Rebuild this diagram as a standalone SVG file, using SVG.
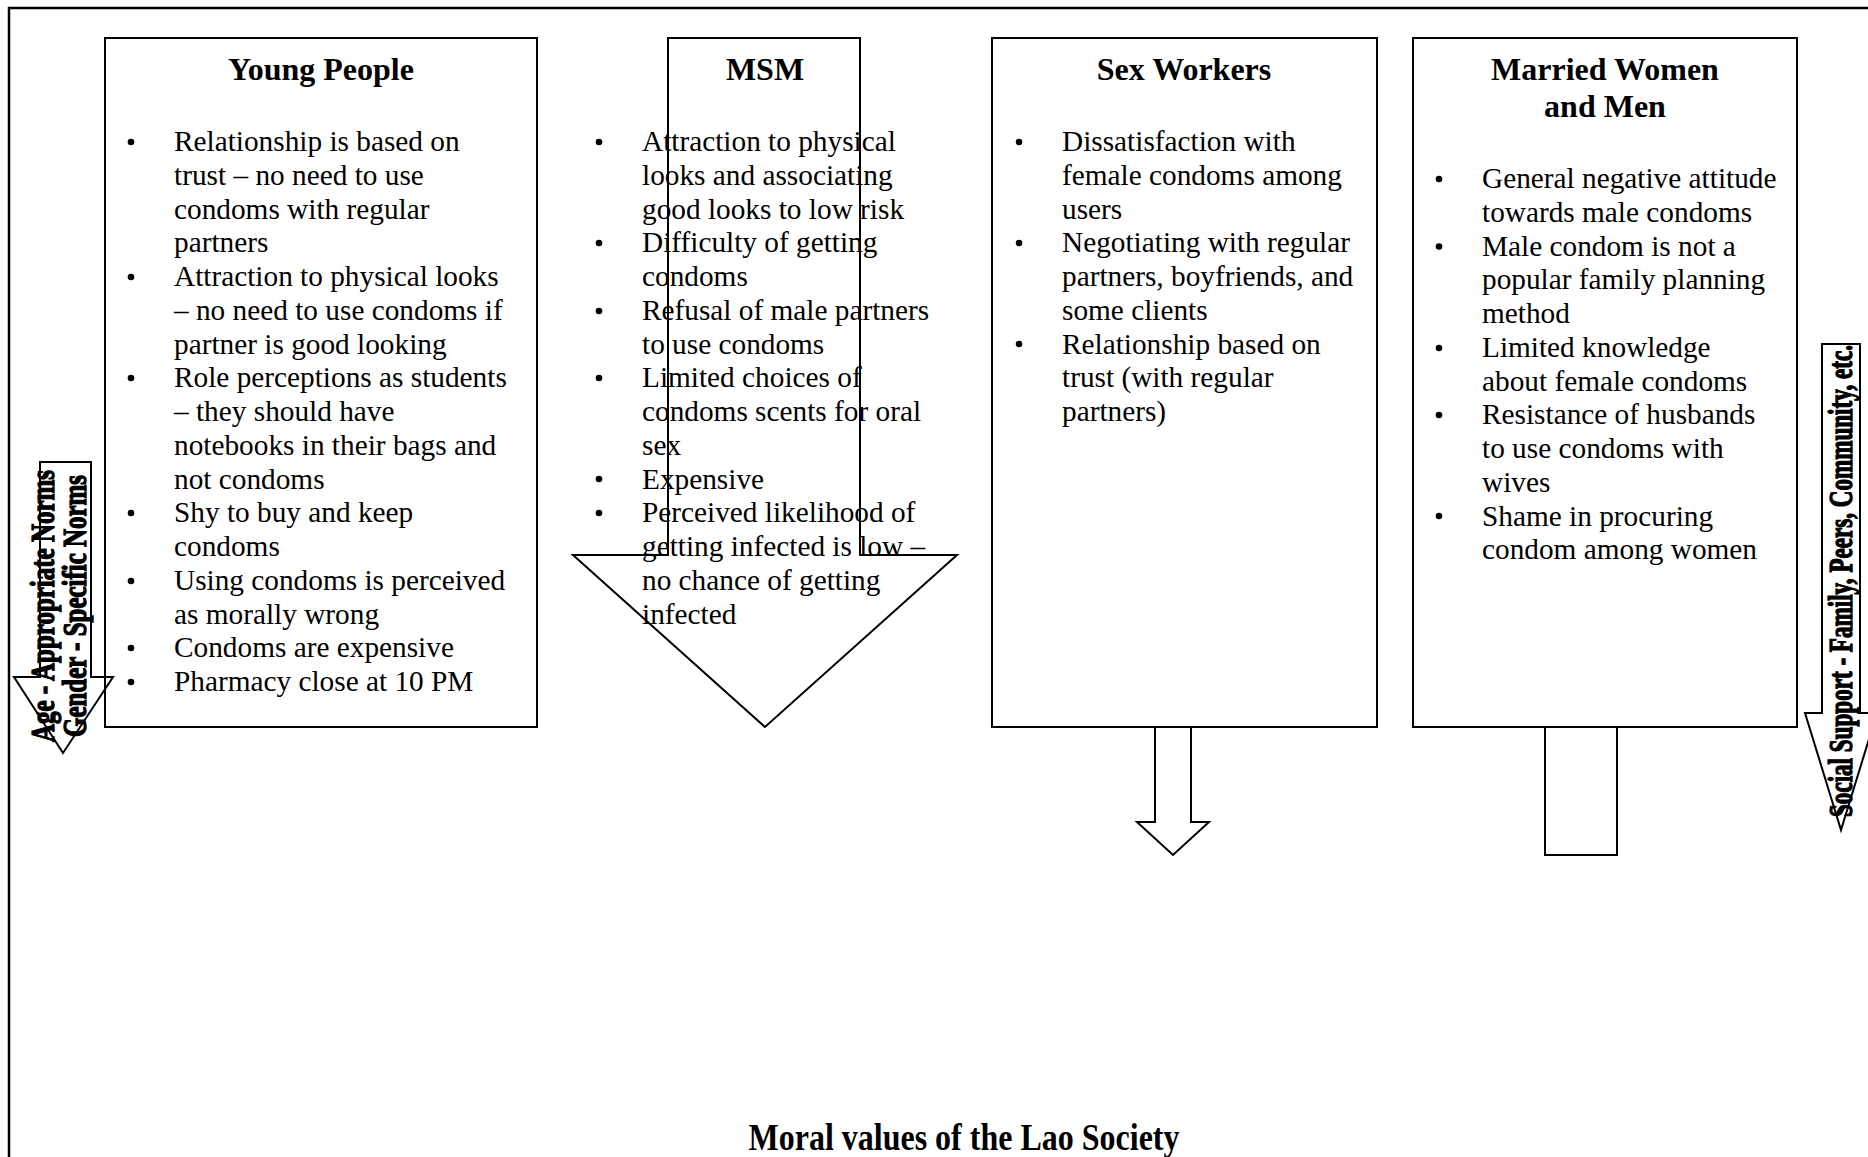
<svg xmlns="http://www.w3.org/2000/svg" width="1868" height="1157" viewBox="0 0 1868 1157">
<style>
.frame{fill:none;stroke:#000;stroke-width:2.5}
.box{fill:none;stroke:#000;stroke-width:2}
.dot{fill:#000}
.title{font-family:"Liberation Serif","Times New Roman",serif;font-weight:bold;font-size:32px;fill:#000;text-anchor:middle}
.body{font-family:"Liberation Serif","Times New Roman",serif;font-size:29.3px;fill:#000}
.vert{font-family:"Liberation Serif","Times New Roman",serif;font-weight:bold;font-size:33px;fill:#000;stroke:#000;stroke-width:1.3}
.foot{font-family:"Liberation Serif","Times New Roman",serif;font-weight:bold;font-size:38px;fill:#000;text-anchor:middle}
</style>
<defs>
<circle id="b" r="3.3" class="dot"/>
</defs>
<rect width="1868" height="1157" fill="#fff"/>
<rect class="frame" x="9" y="8" width="1880" height="1180"/>

<g id="node-young">
<rect class="box" x="105" y="38" width="432" height="689"/>
<text class="title" x="321" y="80">Young People</text>
<g>
<use href="#b" x="131" y="142"/><use href="#b" x="131" y="277"/><use href="#b" x="131" y="378"/><use href="#b" x="131" y="513"/><use href="#b" x="131" y="581"/><use href="#b" x="131" y="648"/><use href="#b" x="131" y="682"/>
</g>
<text class="body">
<tspan x="174" y="151">Relationship is based on</tspan>
<tspan x="174" y="184.75">trust – no need to use</tspan>
<tspan x="174" y="218.5">condoms with regular</tspan>
<tspan x="174" y="252.25">partners</tspan>
<tspan x="174" y="286">Attraction to physical looks</tspan>
<tspan x="174" y="319.75">– no need to use condoms if</tspan>
<tspan x="174" y="353.5">partner is good looking</tspan>
<tspan x="174" y="387.25">Role perceptions as students</tspan>
<tspan x="174" y="421">– they should have</tspan>
<tspan x="174" y="454.75">notebooks in their bags and</tspan>
<tspan x="174" y="488.5">not condoms</tspan>
<tspan x="174" y="522.25">Shy to buy and keep</tspan>
<tspan x="174" y="556">condoms</tspan>
<tspan x="174" y="589.75">Using condoms is perceived</tspan>
<tspan x="174" y="623.5">as morally wrong</tspan>
<tspan x="174" y="657.25">Condoms are expensive</tspan>
<tspan x="174" y="691">Pharmacy close at 10 PM</tspan>
</text>
</g>

<g id="node-msm">
<polygon class="box" points="668,38 860,38 860,555 957,555 765,727 573,555 668,555"/>
<text class="title" x="765" y="80">MSM</text>
<g>
<use href="#b" x="599" y="142"/><use href="#b" x="599" y="243"/><use href="#b" x="599" y="311"/><use href="#b" x="599" y="378"/><use href="#b" x="599" y="479"/><use href="#b" x="599" y="513"/>
</g>
<text class="body">
<tspan x="642" y="151">Attraction to physical</tspan>
<tspan x="642" y="184.75">looks and associating</tspan>
<tspan x="642" y="218.5">good looks to low risk</tspan>
<tspan x="642" y="252.25">Difficulty of getting</tspan>
<tspan x="642" y="286">condoms</tspan>
<tspan x="642" y="319.75">Refusal of male partners</tspan>
<tspan x="642" y="353.5">to use condoms</tspan>
<tspan x="642" y="387.25">Limited choices of</tspan>
<tspan x="642" y="421">condoms scents for oral</tspan>
<tspan x="642" y="454.75">sex</tspan>
<tspan x="642" y="488.5">Expensive</tspan>
<tspan x="642" y="522.25">Perceived likelihood of</tspan>
<tspan x="642" y="556">getting infected is low –</tspan>
<tspan x="642" y="589.75">no chance of getting</tspan>
<tspan x="642" y="623.5">infected</tspan>
</text>
</g>

<g id="node-sex-workers">
<rect class="box" x="992" y="38" width="385" height="689"/>
<text class="title" x="1184" y="80">Sex Workers</text>
<g>
<use href="#b" x="1019" y="142"/><use href="#b" x="1019" y="243"/><use href="#b" x="1019" y="344"/>
</g>
<text class="body">
<tspan x="1062" y="151">Dissatisfaction with</tspan>
<tspan x="1062" y="184.75">female condoms among</tspan>
<tspan x="1062" y="218.5">users</tspan>
<tspan x="1062" y="252.25">Negotiating with regular</tspan>
<tspan x="1062" y="286">partners, boyfriends, and</tspan>
<tspan x="1062" y="319.75">some clients</tspan>
<tspan x="1062" y="353.5">Relationship based on</tspan>
<tspan x="1062" y="387.25">trust (with regular</tspan>
<tspan x="1062" y="421">partners)</tspan>
</text>
</g>

<g id="node-married">
<rect class="box" x="1413" y="38" width="384" height="689"/>
<text class="title" x="1605" y="80">Married Women</text>
<text class="title" x="1605" y="117">and Men</text>
<g>
<use href="#b" x="1439" y="179"/><use href="#b" x="1439" y="246.5"/><use href="#b" x="1439" y="348"/><use href="#b" x="1439" y="415"/><use href="#b" x="1439" y="516"/>
</g>
<text class="body">
<tspan x="1482" y="188">General negative attitude</tspan>
<tspan x="1482" y="221.75">towards male condoms</tspan>
<tspan x="1482" y="255.5">Male condom is not a</tspan>
<tspan x="1482" y="289.25">popular family planning</tspan>
<tspan x="1482" y="323">method</tspan>
<tspan x="1482" y="356.75">Limited knowledge</tspan>
<tspan x="1482" y="390.5">about female condoms</tspan>
<tspan x="1482" y="424.25">Resistance of husbands</tspan>
<tspan x="1482" y="458">to use condoms with</tspan>
<tspan x="1482" y="491.75">wives</tspan>
<tspan x="1482" y="525.5">Shame in procuring</tspan>
<tspan x="1482" y="559.25">condom among women</tspan>
</text>
</g>

<g id="connectors">
<polygon class="box" points="1155,727 1191,727 1191,822 1209,822 1173,855 1137,822 1155,822"/>
<polyline class="box" points="1545,727 1545,855 1617,855 1617,727"/>
</g>

<g id="node-age-gender-arrow">
<polygon class="box" points="40,462 91,462 91,677 113,677 63,753 14,677 40,677"/>
<text class="vert" transform="translate(54,742) rotate(-90)" textLength="272" lengthAdjust="spacingAndGlyphs">Age - Appropriate Norms</text>
<text class="vert" transform="translate(86,737) rotate(-90)" textLength="262" lengthAdjust="spacingAndGlyphs">Gender - Specific Norms</text>
</g>

<g id="node-social-support-arrow">
<polygon class="box" points="1822,344 1860,344 1860,713 1877,713 1841,830 1805,713 1822,713"/>
<text class="vert" transform="translate(1852,817) rotate(-90)" textLength="472" lengthAdjust="spacingAndGlyphs">Social Support - Family, Peers, Community, etc.</text>
</g>

<g id="node-moral-values">
<text class="foot" x="964" y="1150" textLength="431" lengthAdjust="spacingAndGlyphs">Moral values of the Lao Society</text>
</g>
</svg>
